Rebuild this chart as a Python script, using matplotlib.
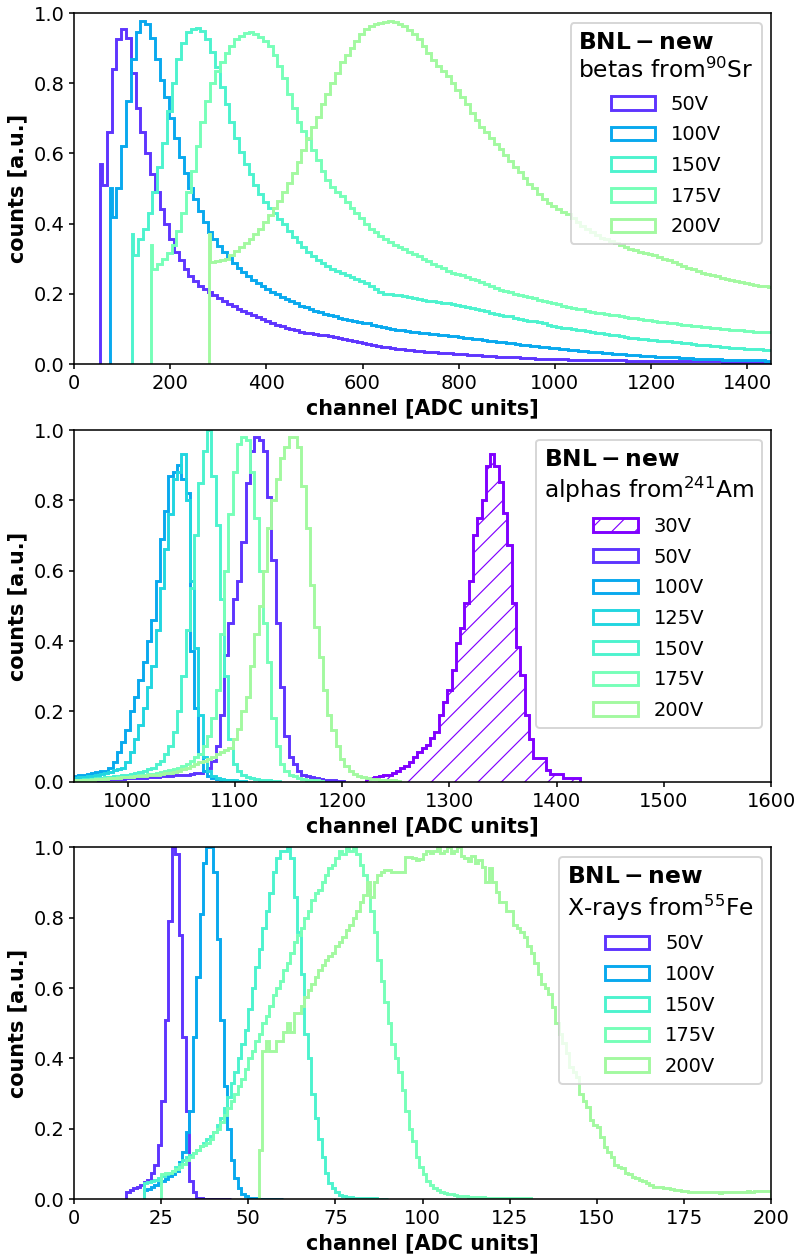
import numpy as np
import matplotlib.pyplot as plt

plt.rcParams['font.size'] = 10
plt.rcParams['xtick.major.size'] = 2.5
plt.rcParams['ytick.major.size'] = 2.5
plt.rcParams['xtick.major.pad'] = 2.5
plt.rcParams['ytick.major.pad'] = 2.5
plt.rcParams['axes.labelpad'] = 2.9
plt.rcParams['hatch.linewidth'] = 0.6

# -----------------------------
# betas from 90Sr : threshold spike (3 ADC wide) then 10 ADC bins
# -----------------------------
sr_volts = [50, 100, 150, 175, 200]
sr_threshold = [55, 75, 120, 160, 280]
sr_spike = [0.57, 0.50, 0.37, 0.34, 0.37]

sr_50 = [0.51, 0.66, 0.84, 0.925, 0.955, 0.93, 0.83, 0.73, 0.66, 0.60,
         0.54, 0.49, 0.44, 0.40, 0.355, 0.32, 0.295, 0.27, 0.25, 0.235,
         0.222, 0.212, 0.204, 0.195, 0.187, 0.179, 0.171, 0.164, 0.157, 0.151,
         0.145, 0.139, 0.133, 0.127, 0.122, 0.117, 0.112, 0.107, 0.103, 0.099,
         0.095, 0.092, 0.089, 0.087, 0.085, 0.083, 0.081, 0.079, 0.077, 0.074,
         0.071, 0.068, 0.065, 0.062, 0.060, 0.057, 0.054, 0.052, 0.049, 0.047,
         0.045, 0.043, 0.041, 0.040, 0.038, 0.037, 0.036, 0.035, 0.034, 0.033,
         0.032, 0.031, 0.030, 0.029, 0.028, 0.027, 0.026, 0.025, 0.024, 0.023,
         0.022, 0.021, 0.020, 0.020, 0.019, 0.018, 0.018, 0.017, 0.016, 0.016,
         0.015, 0.015, 0.014, 0.014, 0.013, 0.013, 0.013, 0.012, 0.012, 0.012,
         0.011, 0.011, 0.011, 0.011, 0.010, 0.010, 0.010, 0.010, 0.010, 0.009,
         0.009, 0.009, 0.009, 0.009, 0.009, 0.008, 0.008, 0.008, 0.008, 0.008,
         0.008, 0.008, 0.007, 0.007, 0.007, 0.007, 0.007, 0.007, 0.007, 0.006,
         0.006, 0.006, 0.006, 0.006, 0.006, 0.006, 0.006, 0.006, 0.006, 0.006]
sr_100 = [0.42, 0.50, 0.62, 0.75, 0.87, 0.945, 0.978, 0.97, 0.93, 0.87,
          0.81, 0.76, 0.70, 0.645, 0.59, 0.545, 0.50, 0.47, 0.435, 0.405,
          0.375, 0.355, 0.335, 0.318, 0.302, 0.287, 0.274, 0.262, 0.25, 0.24,
          0.231, 0.222, 0.214, 0.206, 0.198, 0.191, 0.184, 0.178, 0.172, 0.166,
          0.161, 0.156, 0.151, 0.147, 0.143, 0.139, 0.135, 0.132, 0.129, 0.126,
          0.123, 0.12, 0.117, 0.115, 0.112, 0.109, 0.106, 0.103, 0.1, 0.097,
          0.095, 0.093, 0.092, 0.09, 0.089, 0.087, 0.086, 0.084, 0.083, 0.081,
          0.08, 0.079, 0.077, 0.075, 0.073, 0.072, 0.07, 0.068, 0.066, 0.065,
          0.063, 0.061, 0.06, 0.058, 0.056, 0.055, 0.053, 0.051, 0.05, 0.048,
          0.047, 0.045, 0.044, 0.043, 0.041, 0.04, 0.039, 0.037, 0.036, 0.035,
          0.034, 0.033, 0.031, 0.03, 0.029, 0.028, 0.027, 0.026, 0.025, 0.024,
          0.023, 0.022, 0.021, 0.02, 0.02, 0.019, 0.018, 0.018, 0.017, 0.016,
          0.016, 0.015, 0.015, 0.014, 0.014, 0.013, 0.013, 0.012, 0.012, 0.012,
          0.011, 0.011, 0.011, 0.01, 0.01, 0.01, 0.009, 0.009]
sr_150 = [0.31, 0.355, 0.385, 0.43, 0.49, 0.56, 0.63, 0.72, 0.80, 0.87,
          0.915, 0.945, 0.955, 0.958, 0.95, 0.925, 0.89, 0.845, 0.79, 0.74,
          0.69, 0.645, 0.605, 0.57, 0.54, 0.51, 0.485, 0.462, 0.445, 0.43,
          0.413, 0.398, 0.38, 0.363, 0.347, 0.333, 0.32, 0.307, 0.296, 0.287,
          0.278, 0.27, 0.264, 0.258, 0.252, 0.247, 0.241, 0.236, 0.23, 0.222,
          0.214, 0.206, 0.2, 0.198, 0.196, 0.195, 0.192, 0.19, 0.187, 0.185,
          0.182, 0.18, 0.178, 0.176, 0.174, 0.172, 0.17, 0.168, 0.166, 0.163,
          0.16, 0.156, 0.153, 0.15, 0.146, 0.143, 0.14, 0.137, 0.135, 0.132,
          0.129, 0.126, 0.123, 0.121, 0.118, 0.115, 0.112, 0.109, 0.106, 0.103,
          0.101, 0.099, 0.097, 0.095, 0.093, 0.091, 0.089, 0.087, 0.085, 0.083,
          0.081, 0.079, 0.077, 0.075, 0.073, 0.072, 0.07, 0.069, 0.068, 0.066,
          0.065, 0.064, 0.062, 0.061, 0.06, 0.058, 0.057, 0.055, 0.054, 0.053,
          0.051, 0.05, 0.049, 0.047, 0.046, 0.045, 0.044, 0.043, 0.042, 0.041,
          0.041, 0.04, 0.04]
sr_175 = [0.27, 0.285, 0.30, 0.315, 0.34, 0.38, 0.43, 0.49, 0.55, 0.62,
          0.69, 0.75, 0.80, 0.835, 0.86, 0.885, 0.905, 0.925, 0.935, 0.942,
          0.945, 0.94, 0.932, 0.92, 0.905, 0.88, 0.85, 0.815, 0.77, 0.73,
          0.69, 0.665, 0.64, 0.61, 0.58, 0.55, 0.525, 0.505, 0.49, 0.478,
          0.462, 0.445, 0.43, 0.415, 0.40, 0.385, 0.375, 0.365, 0.356, 0.347,
          0.34, 0.334, 0.328, 0.32, 0.313, 0.306, 0.298, 0.292, 0.286, 0.279,
          0.272, 0.265, 0.26, 0.256, 0.252, 0.248, 0.243, 0.238, 0.232, 0.227,
          0.221, 0.216, 0.211, 0.207, 0.204, 0.2, 0.197, 0.193, 0.19, 0.187,
          0.183, 0.18, 0.176, 0.173, 0.17, 0.166, 0.163, 0.16, 0.157, 0.155,
          0.152, 0.149, 0.146, 0.144, 0.142, 0.14, 0.138, 0.136, 0.134, 0.132,
          0.13, 0.128, 0.126, 0.124, 0.122, 0.12, 0.118, 0.116, 0.115, 0.113,
          0.112, 0.11, 0.108, 0.107, 0.105, 0.104, 0.103, 0.101, 0.1, 0.099,
          0.097, 0.096, 0.095, 0.094, 0.093, 0.092, 0.091, 0.09, 0.09]
sr_200 = [0.29, 0.292, 0.296, 0.30, 0.31, 0.322, 0.334, 0.345, 0.357, 0.37,
          0.385, 0.405, 0.425, 0.445, 0.465, 0.49, 0.515, 0.545, 0.575, 0.61,
          0.645, 0.675, 0.705, 0.74, 0.77, 0.80, 0.83, 0.86, 0.88, 0.90,
          0.92, 0.94, 0.955, 0.962, 0.968, 0.972, 0.975, 0.977, 0.976, 0.97,
          0.962, 0.952, 0.94, 0.925, 0.905, 0.885, 0.866, 0.85, 0.835, 0.82,
          0.80, 0.78, 0.76, 0.74, 0.715, 0.695, 0.675, 0.66, 0.643, 0.627,
          0.612, 0.595, 0.578, 0.562, 0.546, 0.53, 0.514, 0.50, 0.485, 0.47,
          0.458, 0.45, 0.442, 0.434, 0.427, 0.415, 0.404, 0.393, 0.384, 0.375,
          0.366, 0.36, 0.355, 0.35, 0.345, 0.34, 0.334, 0.328, 0.324, 0.32,
          0.317, 0.314, 0.31, 0.305, 0.30, 0.295, 0.29, 0.284, 0.278, 0.274,
          0.269, 0.264, 0.26, 0.256, 0.252, 0.249, 0.246, 0.243, 0.24, 0.237,
          0.234, 0.231, 0.228, 0.226, 0.223, 0.221, 0.219, 0.218]
sr_values = [sr_50, sr_100, sr_150, sr_175, sr_200]

# -----------------------------
# alphas from 241Am : 4 ADC bins
# -----------------------------
am_volts = [30, 50, 100, 125, 150, 175, 200]
am_start = [1222, 950, 950, 950, 950, 950, 950]

am_30 = [0.008, 0.01, 0.012, 0.015, 0.02, 0.018, 0.025, 0.03, 0.04, 0.045,
         0.057, 0.07, 0.085, 0.095, 0.105, 0.123, 0.142, 0.19, 0.227, 0.26,
         0.318, 0.393, 0.436, 0.507, 0.569, 0.70, 0.75, 0.80, 0.896, 0.93,
         0.896, 0.853, 0.763, 0.673, 0.507, 0.384, 0.303, 0.19, 0.12, 0.066,
         0.066, 0.066, 0.033, 0.022, 0.022, 0.022, 0.01, 0.01, 0.01, 0.01]
am_50 = [0.004, 0.004, 0.005, 0.005, 0.005, 0.006, 0.006, 0.006, 0.007, 0.007,
         0.008, 0.008, 0.009, 0.009, 0.01, 0.01, 0.011, 0.012, 0.013, 0.014,
         0.015, 0.016, 0.017, 0.018, 0.019, 0.02, 0.02, 0.022, 0.024, 0.026,
         0.03, 0.04, 0.06, 0.10, 0.19, 0.36, 0.45, 0.52, 0.57, 0.68,
         0.85, 0.94, 0.98, 0.97, 0.94, 0.81, 0.63, 0.45, 0.27, 0.13,
         0.07, 0.05, 0.03, 0.02, 0.015, 0.012, 0.01, 0.008, 0.006, 0.005,
         0.004, 0.003, 0.003]
am_100 = [0.015, 0.018, 0.02, 0.022, 0.025, 0.028, 0.03, 0.03, 0.04, 0.057,
          0.085, 0.114, 0.147, 0.20, 0.24, 0.29, 0.34, 0.40, 0.46, 0.57,
          0.69, 0.77, 0.87, 0.88, 0.90, 0.86, 0.82, 0.37, 0.21, 0.08,
          0.03, 0.015, 0.01, 0.008, 0.006, 0.005, 0.004, 0.003, 0.002, 0.002]
am_125 = [0.01, 0.012, 0.014, 0.015, 0.017, 0.02, 0.022, 0.025, 0.028, 0.032,
          0.036, 0.04, 0.057, 0.085, 0.12, 0.16, 0.21, 0.27, 0.33, 0.43,
          0.55, 0.66, 0.76, 0.86, 0.88, 0.93, 0.80, 0.57, 0.38, 0.19,
          0.07, 0.03, 0.015, 0.01, 0.008, 0.006, 0.005, 0.004, 0.003, 0.002]
am_150 = [0.005, 0.006, 0.007, 0.008, 0.008, 0.01, 0.01, 0.012, 0.013, 0.015,
          0.016, 0.018, 0.02, 0.022, 0.025, 0.028, 0.03, 0.035, 0.04, 0.05,
          0.06, 0.08, 0.10, 0.14, 0.20, 0.30, 0.43, 0.55, 0.70, 0.85,
          0.94, 1.0, 0.87, 0.73, 0.52, 0.30, 0.12, 0.05, 0.03, 0.02,
          0.012, 0.01, 0.008, 0.006, 0.005, 0.004, 0.003, 0.002]
am_175 = [0.005, 0.005, 0.006, 0.006, 0.007, 0.008, 0.008, 0.009, 0.01, 0.011,
          0.012, 0.013, 0.014, 0.015, 0.016, 0.018, 0.02, 0.021, 0.023, 0.025,
          0.027, 0.03, 0.033, 0.036, 0.04, 0.045, 0.05, 0.06, 0.07, 0.08,
          0.10, 0.13, 0.18, 0.26, 0.42, 0.60, 0.76, 0.88, 0.96, 0.98,
          0.97, 0.88, 0.75, 0.60, 0.45, 0.34, 0.18, 0.10, 0.05, 0.03,
          0.02, 0.015, 0.01, 0.008, 0.006, 0.005, 0.004, 0.003]
am_200 = [0.004, 0.005, 0.005, 0.006, 0.006, 0.007, 0.008, 0.008, 0.009, 0.01,
          0.011, 0.012, 0.013, 0.014, 0.015, 0.016, 0.017, 0.018, 0.019, 0.02,
          0.022, 0.024, 0.026, 0.028, 0.03, 0.035, 0.04, 0.045, 0.05, 0.055,
          0.06, 0.065, 0.07, 0.08, 0.085, 0.09, 0.095, 0.12, 0.15, 0.20,
          0.24, 0.33, 0.42, 0.50, 0.60, 0.72, 0.80, 0.86, 0.92, 0.95,
          0.98, 0.98, 0.95, 0.84, 0.72, 0.56, 0.44, 0.355, 0.26, 0.19,
          0.147, 0.10, 0.065, 0.045, 0.03, 0.022, 0.016, 0.012, 0.01, 0.008,
          0.007, 0.006, 0.005, 0.004, 0.004, 0.003]
am_values = [am_30, am_50, am_100, am_125, am_150, am_175, am_200]

# -----------------------------
# X-rays from 55Fe : 1 ADC bins
# -----------------------------
fe_volts = [50, 100, 150, 175, 200]
fe_start = [15, 20, 20, 25, 53]

fe_50 = [0.021, 0.026, 0.03, 0.035, 0.04, 0.049, 0.054, 0.073, 0.097, 0.154,
         0.28, 0.51, 0.79, 1.0, 0.98, 0.75, 0.46, 0.25, 0.05, 0.02,
         0.004, 0.002, 0.001, 0.001, 0.001, 0.001, 0.001, 0.001, 0.001, 0.001]
fe_100 = [0.025, 0.028, 0.035, 0.04, 0.045, 0.05, 0.058, 0.065, 0.07, 0.08,
          0.106, 0.135, 0.19, 0.25, 0.46, 0.63, 0.81, 0.955, 1.0, 1.0,
          0.93, 0.74, 0.51, 0.32, 0.2, 0.11, 0.06, 0.03, 0.015, 0.008,
          0.004, 0.002, 0.002, 0.001, 0.001, 0.001, 0.001, 0.001, 0.001, 0.001]
fe_150 = [0.045, 0.048, 0.05, 0.055, 0.06, 0.065, 0.07, 0.075, 0.08, 0.09,
          0.10, 0.11, 0.12, 0.125, 0.13, 0.14, 0.15, 0.16, 0.17, 0.18,
          0.19, 0.21, 0.23, 0.26, 0.29, 0.33, 0.36, 0.40, 0.44, 0.48,
          0.54, 0.60, 0.66, 0.71, 0.77, 0.82, 0.87, 0.93, 0.97, 0.99,
          0.99, 1.0, 0.97, 0.86, 0.76, 0.64, 0.47, 0.40, 0.30, 0.23,
          0.17, 0.12, 0.075, 0.045, 0.03, 0.02, 0.012, 0.008, 0.006, 0.005,
          0.004, 0.003, 0.003, 0.002, 0.002, 0.002, 0.002, 0.001, 0.001, 0.001]
fe_175 = [0.07, 0.073, 0.075, 0.08, 0.085, 0.09, 0.10, 0.11, 0.12, 0.13,
          0.14, 0.15, 0.155, 0.16, 0.17, 0.19, 0.20, 0.22, 0.24, 0.26,
          0.28, 0.30, 0.32, 0.34, 0.37, 0.40, 0.42, 0.45, 0.47, 0.50,
          0.52, 0.55, 0.58, 0.60, 0.62, 0.65, 0.67, 0.70, 0.73, 0.75,
          0.77, 0.80, 0.82, 0.85, 0.87, 0.88, 0.90, 0.92, 0.94, 0.95,
          0.97, 0.99, 0.98, 1.0, 0.99, 1.0, 0.98, 0.95, 0.92, 0.88,
          0.82, 0.76, 0.68, 0.62, 0.56, 0.50, 0.44, 0.40, 0.36, 0.31,
          0.25, 0.20, 0.165, 0.12, 0.09, 0.07, 0.05, 0.04, 0.03, 0.025,
          0.021, 0.018, 0.015, 0.013, 0.011, 0.01, 0.009, 0.008, 0.007, 0.006,
          0.006, 0.005, 0.005, 0.004, 0.004, 0.003, 0.003, 0.003, 0.003, 0.002,
          0.002, 0.002, 0.002, 0.002, 0.002, 0.002]
fe_200 = [0.14, 0.42, 0.45, 0.42, 0.42, 0.45, 0.45, 0.476, 0.50, 0.476,
          0.53, 0.53, 0.55, 0.575, 0.594, 0.61, 0.63, 0.65, 0.665, 0.68,
          0.69, 0.70, 0.72, 0.73, 0.745, 0.765, 0.78, 0.80, 0.82, 0.845,
          0.865, 0.90, 0.86, 0.90, 0.92, 0.93, 0.935, 0.935, 0.93, 0.93,
          0.93, 0.93, 0.973, 0.973, 0.97, 0.965, 0.968, 0.98, 0.99, 0.985,
          0.99, 1.0, 0.985, 0.99, 1.0, 0.985, 0.99, 1.0, 0.975, 0.97,
          0.96, 0.975, 0.955, 0.965, 0.945, 0.902, 0.94, 0.902, 0.874, 0.845,
          0.845, 0.82, 0.82, 0.78, 0.77, 0.76, 0.745, 0.72, 0.70, 0.67,
          0.64, 0.612, 0.60, 0.584, 0.545, 0.50, 0.47, 0.443, 0.414, 0.376,
          0.36, 0.348, 0.30, 0.28, 0.262, 0.224, 0.21, 0.205, 0.177, 0.148,
          0.135, 0.12, 0.096, 0.09, 0.087, 0.073, 0.07, 0.063, 0.06, 0.054,
          0.05, 0.045, 0.04, 0.035, 0.035, 0.033, 0.03, 0.03, 0.028, 0.025,
          0.025, 0.024, 0.022, 0.021, 0.021, 0.02, 0.02, 0.019, 0.02, 0.019,
          0.02, 0.019, 0.018, 0.019, 0.02, 0.019, 0.02, 0.021, 0.02, 0.021,
          0.022, 0.021, 0.022, 0.023, 0.022, 0.024, 0.022]
fe_values = [fe_50, fe_100, fe_150, fe_175, fe_200]


def volt_colour(volt):
    return plt.cm.rainbow((volt - 30) / 300)


def step_hist(ax, edges, values, volt, **kw):
    """Draw pre-binned counts as a step histogram."""
    edges = np.asarray(edges, dtype=float)
    centres = 0.5 * (edges[:-1] + edges[1:])
    ax.hist(centres, bins=edges, weights=values, histtype='step', lw=1.5,
            color=volt_colour(volt), label=f'{volt}V', **kw)


def style_axes(ax, xlim, xticks, source):
    ax.set_xlim(*xlim)
    ax.set_ylim(0, 1)
    ax.set_xticks(xticks)
    ax.set_yticks(np.arange(0, 1.01, 0.2))
    ax.set_xlabel('channel [ADC units]', fontweight='bold', fontsize=10.7)
    ax.set_ylabel('counts [a.u.]', fontweight='bold', fontsize=10.7)
    ax.legend(title=r'$\bf{BNL-new}$' + '\n' + source, loc='upper right',
              title_fontsize=12, handlelength=2.3, labelspacing=0.6)


DPI = 140
fig = plt.figure(figsize=(799.2 / DPI, 1255.2 / DPI), dpi=DPI)
ax1 = fig.add_axes([0.0926, 0.7100, 0.8724, 0.2794])
ax2 = fig.add_axes([0.0926, 0.3771, 0.8724, 0.2803])
ax3 = fig.add_axes([0.0926, 0.0446, 0.8724, 0.2802])

# --- betas ---
for volt, t, spike, vals in zip(sr_volts, sr_threshold, sr_spike, sr_values):
    edges = np.r_[t, t + 3 + 10 * np.arange(len(vals) + 1)]
    step_hist(ax1, edges, np.r_[spike, vals], volt)
style_axes(ax1, (0, 1450), np.arange(0, 1401, 200), r'betas from$^{90}$Sr')

# --- alphas ---
for volt, start, vals in zip(am_volts, am_start, am_values):
    edges = start + 4 * np.arange(len(vals) + 1)
    step_hist(ax2, edges, vals, volt, hatch='//' if volt == 30 else None)
style_axes(ax2, (950, 1600), np.arange(1000, 1601, 100), r'alphas from$^{241}$Am')

# --- X-rays ---
for volt, start, vals in zip(fe_volts, fe_start, fe_values):
    edges = start + np.arange(len(vals) + 1)
    step_hist(ax3, edges, vals, volt)
style_axes(ax3, (0, 200), np.arange(0, 201, 25), r'X-rays from$^{55}$Fe')

fig.savefig('out.png', dpi=DPI)
